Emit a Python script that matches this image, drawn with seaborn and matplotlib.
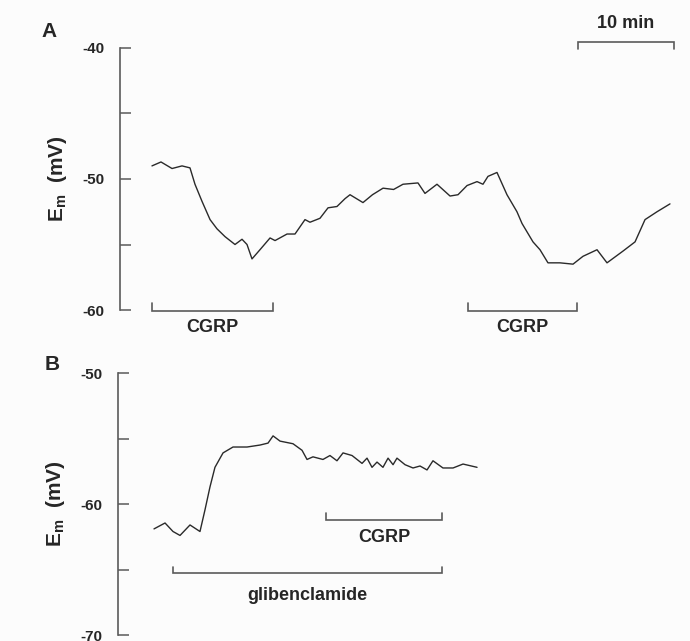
import matplotlib
matplotlib.use("Agg")
import matplotlib.pyplot as plt
import seaborn as sns
import numpy as np
import pandas as pd

# ---- data (time in minutes, membrane potential in mV) ----
time_a = [3.33, 4.27, 5.42, 6.46, 7.29, 7.81, 8.54, 9.38, 10.1, 10.94, 11.98, 12.71, 13.23,
          13.75, 14.58, 15.63, 16.15, 17.4, 18.23, 19.27, 19.79, 20.83, 21.67, 22.6, 23.44,
          23.96, 25.31, 26.3, 27.4, 28.5, 29.48, 31.04, 31.77, 33.02, 34.38, 35.21, 36.15,
          37.19, 37.81, 38.33, 39.27, 40.31, 41.35, 41.88, 43.02, 43.75, 44.58, 45.83, 47.19,
          48.23, 49.69, 50.73, 52.4, 53.65, 54.69, 55.94, 57.29]
em_a = [-49.0, -48.7, -49.2, -49.0, -49.15, -50.4, -51.7, -53.1, -53.8, -54.4, -55.0, -54.6,
        -55.0, -56.1, -55.4, -54.5, -54.7, -54.2, -54.2, -53.1, -53.3, -53.0, -52.2, -52.1,
        -51.5, -51.2, -51.8, -51.2, -50.7, -50.8, -50.4, -50.3, -51.1, -50.4, -51.3, -51.2,
        -50.5, -50.2, -50.4, -49.8, -49.5, -51.2, -52.5, -53.4, -54.8, -55.4, -56.4, -56.4,
        -56.5, -55.9, -55.4, -56.4, -55.5, -54.8, -53.1, -52.5, -51.9]

time_b = [3.75, 4.9, 5.73, 6.46, 7.5, 8.54, 9.06, 9.58, 10.1, 10.94, 11.98, 13.44, 14.79,
          15.63, 16.15, 16.88, 18.23, 19.17, 19.69, 20.31, 21.35, 22.08, 22.81, 23.44, 24.38,
          25.42, 25.94, 26.46, 26.98, 27.6, 28.13, 28.65, 29.06, 29.9, 30.73, 31.46, 32.19,
          32.81, 33.85, 34.9, 35.94, 37.4]
em_b = [-61.9, -61.45, -62.1, -62.4, -61.6, -62.1, -60.45, -58.7, -57.2, -56.1, -55.65,
        -55.65, -55.5, -55.35, -54.8, -55.2, -55.4, -55.9, -56.6, -56.4, -56.6, -56.3, -56.7,
        -56.1, -56.3, -56.9, -56.5, -57.2, -56.8, -57.2, -56.5, -57.0, -56.5, -57.0, -57.25,
        -57.1, -57.4, -56.7, -57.25, -57.25, -56.95, -57.2]

ticks_a = [-60, -50, -40]
minor_a = [-55, -45]
ticks_b = [-70, -60, -50]
minor_b = [-65, -55]

cgrp_a = [(3.33, 15.94), (36.25, 47.6)]
cgrp_b = (21.67, 33.75)
glib_b = (5.73, 33.75)
scale_bar = (47.7, 57.7)

# ---- styling ----
sns.set_style("white")
plt.rcParams["font.family"] = ["Liberation Sans", "DejaVu Sans"]
plt.rcParams["mathtext.fontset"] = "custom"
plt.rcParams["mathtext.rm"] = "Liberation Sans"
plt.rcParams["mathtext.bf"] = "Liberation Sans:bold"

W, H = 690, 641
fig = plt.figure(figsize=(W / 100, H / 100), dpi=100)
fig.patch.set_facecolor("#fcfcfc")

spine_col = "#5a5a5a"
trace_col = "#2a2a2a"

ax_a = fig.add_axes([120 / W, 1 - 310 / H, 570 / W, 262 / H])
ax_b = fig.add_axes([118 / W, 1 - 635 / H, 570 / W, 262 / H])

df_a = pd.DataFrame({"t": time_a, "em": em_a})
df_b = pd.DataFrame({"t": time_b, "em": em_b})
sns.lineplot(data=df_a, x="t", y="em", ax=ax_a, color=trace_col, linewidth=1.0,
             estimator=None, sort=False)
sns.lineplot(data=df_b, x="t", y="em", ax=ax_b, color=trace_col, linewidth=1.0,
             estimator=None, sort=False)

xmax = 570 / 9.6
for ax, lo, hi, ticks, minor in [(ax_a, -60, -40, ticks_a, minor_a),
                                 (ax_b, -70, -50, ticks_b, minor_b)]:
    ax.set_facecolor("none")
    ax.set_xlim(0, xmax)
    ax.set_ylim(lo, hi)
    for s in ["top", "right", "bottom"]:
        ax.spines[s].set_visible(False)
    ax.spines["left"].set_color(spine_col)
    ax.spines["left"].set_linewidth(1.2)
    ax.set_xticks([])
    ax.set_xlabel("")
    ax.set_yticks(ticks)
    ax.set_yticklabels([str(v) for v in ticks], fontweight="bold", fontsize=11)
    ax.set_yticks(minor, minor=True)
    ax.tick_params(axis="y", which="both", direction="in", length=8, width=1.1,
                   color=spine_col, pad=11, left=True)
    ax.set_ylabel(r"$\mathbf{E_m}$  (mV)", fontsize=15, fontweight="bold")
    ax.yaxis.set_label_coords(-0.09, 0.5)


def bracket(ax, x0, x1, y, h, up=True, col=spine_col):
    d = h if up else -h
    ax.plot([x0, x0, x1, x1], [y + d, y, y, y + d], color=col, lw=1.2,
            clip_on=False, solid_joinstyle="miter")


tk = dict(fontweight="bold", fontsize=13, ha="center", va="center")
for (x0, x1) in cgrp_a:
    bracket(ax_a, x0, x1, -60.05, 0.6)
    ax_a.text((x0 + x1) / 2, -61.35, "CGRP", clip_on=False, **tk)

bracket(ax_a, scale_bar[0], scale_bar[1], -39.55, 0.55, up=False)
ax_a.text((scale_bar[0] + scale_bar[1]) / 2, -38.1, "10 min", clip_on=False, **tk)

bracket(ax_b, cgrp_b[0], cgrp_b[1], -61.2, 0.55)
ax_b.text((cgrp_b[0] + cgrp_b[1]) / 2, -62.55, "CGRP", clip_on=False, **tk)
bracket(ax_b, glib_b[0], glib_b[1], -65.3, 0.5)
ax_b.text((glib_b[0] + glib_b[1]) / 2, -66.95, "glibenclamide", clip_on=False, **tk)

fig.text(41 / W, 1 - 37 / H, "A", fontsize=15, fontweight="bold", va="baseline")
fig.text(45 / W, 1 - 370 / H, "B", fontsize=15, fontweight="bold", va="baseline")

fig.savefig("out.png", dpi=100, facecolor=fig.get_facecolor())
